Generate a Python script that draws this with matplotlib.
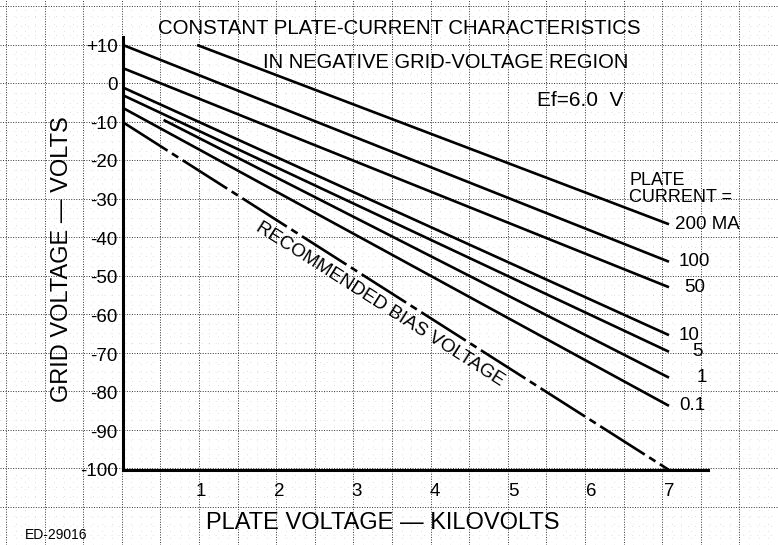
import numpy as np
import matplotlib.pyplot as plt

plt.rcParams['font.family'] = ['Liberation Sans', 'DejaVu Sans']

# constant plate-current lines (kV, grid volts)
currents = ['200 MA', '100', '50', '10', '5', '1', '0.1']
start_kv = [0.95, 0.0, 0.0, 0.0, 0.0, 0.52, 0.0]
start_v = [10.0, 10.0, 4.0, -1.0, -3.0, -9.4, -6.3]
end_kv = [7.0, 7.0, 7.0, 7.0, 7.0, 7.0, 7.0]
end_v = [-36.4, -46.1, -52.7, -65.1, -69.4, -76.1, -83.4]
label_kv = [7.08, 7.12, 7.2, 7.12, 7.3, 7.36, 7.13]

# recommended bias line
bias_kv = [0.0, 7.0]
bias_v = [-10.0, -100.0]

yticks = [10, 0, -10, -20, -30, -40, -50, -60, -70, -80, -90, -100]
ylabels = ['+10', '0', '-10', '-20', '-30', '-40', '-50', '-60', '-70', '-80', '-90', '-100']
xticks = [1, 2, 3, 4, 5, 6, 7]

W, H = 778, 545
fig = plt.figure(figsize=(W / 100, H / 100), dpi=100)

# pixel layout of the plot frame
x0px, x1px = 123, 708
ybot_px, ytop_px = 470, 37
xmin, xmax = 0.0, 7.5
ymin = -100.0
pxkv = (x1px - x0px) / (xmax - xmin)
pxv = 425 / 110
ymax = ymin + (ybot_px - ytop_px) / pxv

# graph paper background
bg = fig.add_axes([0, 0, 1, 1], zorder=0)
bg.set_xlim(xmin - x0px / pxkv, xmin + (W - x0px) / pxkv)
bg.set_ylim(ymin - (H - ybot_px) / pxv, ymin + ybot_px / pxv)
bg.set_xticks(np.arange(-1.5, 8.6, 0.5))
bg.set_yticks(np.arange(-110, 21, 10))
bg.set_xticks(np.arange(-1.5, 8.6, 0.125), minor=True)
bg.set_yticks(np.arange(-120, 22, 2.5), minor=True)
bg.grid(which='major', color='0.2', lw=0.7, ls=(0, (1, 1.6)))
bg.grid(which='minor', color='0.6', lw=0.5, ls=(0, (1, 9)), alpha=0.6)
bg.tick_params(which='both', length=0, labelleft=False, labelbottom=False)
for s in bg.spines.values():
    s.set_visible(False)

ax = fig.add_axes([x0px / W, (H - ybot_px) / H, (x1px - x0px) / W, (ybot_px - ytop_px) / H], zorder=1)
ax.patch.set_visible(False)
ax.set_xlim(xmin, xmax)
ax.set_ylim(ymin, ymax)
ax.spines['top'].set_visible(False)
ax.spines['right'].set_visible(False)
ax.spines['left'].set_linewidth(2.2)
ax.spines['bottom'].set_linewidth(2.2)
ax.set_yticks(yticks)
ax.set_yticklabels(ylabels)
ax.set_xticks(xticks)
ax.tick_params(length=0, labelsize=13.5)
ax.tick_params(axis='y', pad=4)
ax.tick_params(axis='x', pad=9)

for i in range(len(currents)):
    ax.plot([start_kv[i], end_kv[i]], [start_v[i], end_v[i]], color='black', lw=1.9,
            solid_capstyle='butt', clip_on=False)
    ax.text(label_kv[i], end_v[i], currents[i], fontsize=13.5, ha='left', va='center')

ax.plot(bias_kv, bias_v, color='black', lw=1.9, ls=(0, (20, 2, 2.8, 2)), clip_on=False)
ax.text(3.29, -57.0, 'RECOMMENDED BIAS VOLTAGE', fontsize=13.6, rotation=-32.5,
        ha='center', va='center', rotation_mode='anchor')

ax.text(6.49, -27.3, 'PLATE\nCURRENT =', fontsize=13, ha='left', va='center', linespacing=1.05)

fig.text(158 / W, 1 - 28 / H, 'CONSTANT PLATE-CURRENT CHARACTERISTICS', fontsize=14.7,
         ha='left', va='center')
fig.text(263 / W, 1 - 62 / H, 'IN NEGATIVE GRID-VOLTAGE REGION', fontsize=14.5,
         ha='left', va='center')
fig.text(537 / W, 1 - 101 / H, 'Ef=6.0  V', fontsize=15, ha='left', va='center')

fig.text(62 / W, 1 - 259 / H, 'GRID VOLTAGE \u2014 VOLTS', fontsize=17, rotation=90,
         ha='center', va='center')
fig.text(383 / W, 1 - 523 / H, 'PLATE VOLTAGE \u2014 KILOVOLTS', fontsize=17,
         ha='center', va='center')
fig.text(25 / W, 1 - 535 / H, 'ED-29016', fontsize=10, ha='left', va='center')

fig.savefig('out.png', dpi=100)
